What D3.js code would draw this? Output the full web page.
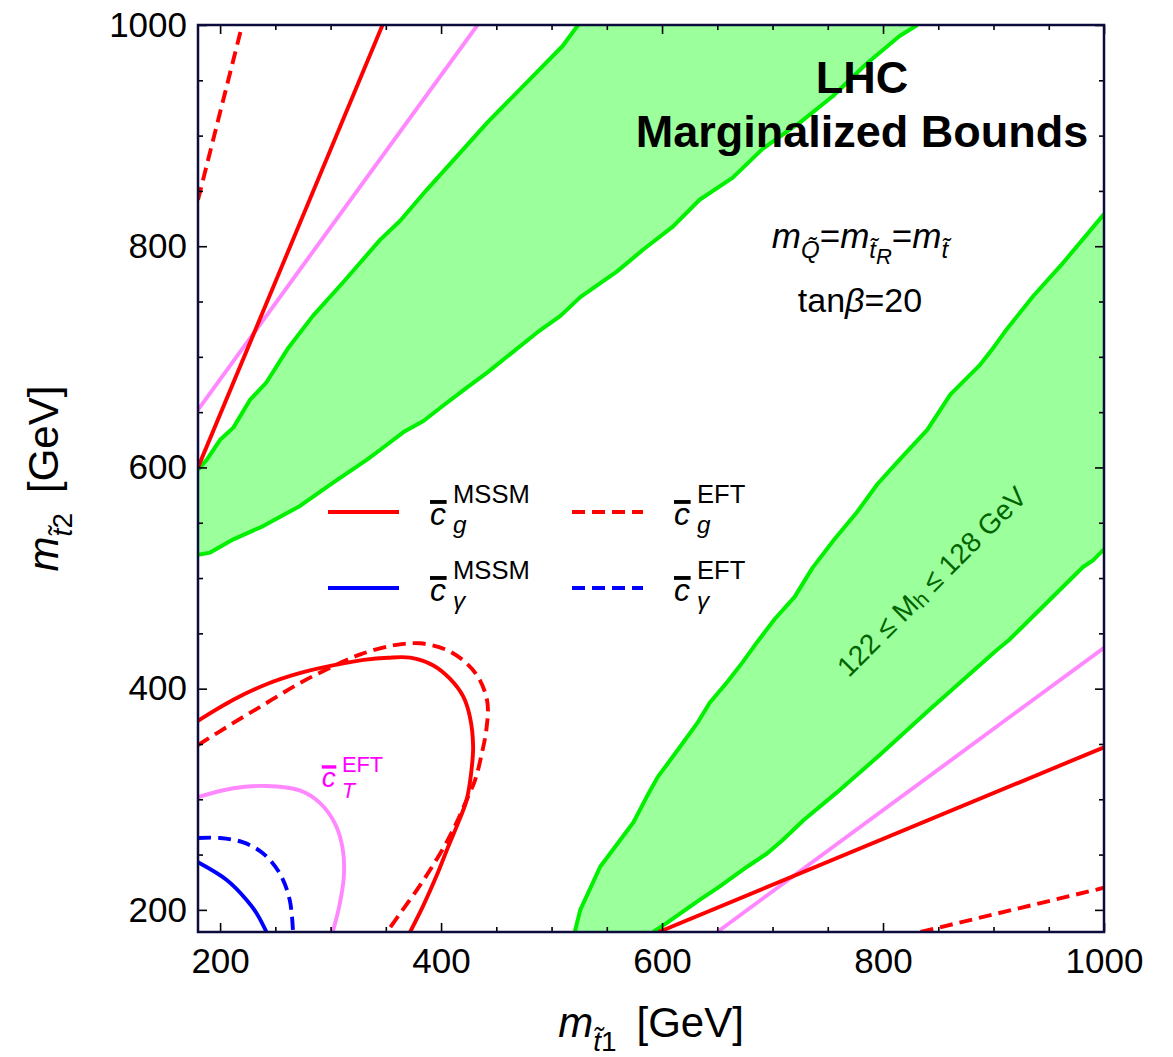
<!DOCTYPE html>
<html>
<head>
<meta charset="utf-8">
<script src="https://cdn.jsdelivr.net/npm/d3@7"></script>
<style>
body { margin: 0; background: #fff; }
text { font-family: "Liberation Sans", Arial, Helvetica, sans-serif; }
</style>
</head>
<body>
<div class="stop-plot"></div>
<script>
// tick values (GeV)
const xTicks = [200, 400, 600, 800, 1000];
const yTicks = [200, 400, 600, 800, 1000];
const minorTicks = [250, 300, 350, 450, 500, 550, 650, 700, 750, 850, 900, 950];

// 122 <= Mh <= 128 GeV bands, boundaries as [m_t1, m_t2]
const bandUpperTop = [[180,598],[188,607],[200,625],[212,636],[227,661],[242,677],[261,707],[284,737],[311,767],[345,806],[363,823],[387,851],[442,912],[510,981],[524,1000]];
const bandUpperBottom = [[180,521],[191,523],[212,535],[239,547],[272,565],[302,586],[333,607],[345,616],[366,632],[384,642],[402,656],[423,672],[442,686],[462,702],[487,722],[508,737],[526,754],[559,777],[583,797],[610,818],[634,842],[664,862],[691,888],[725,912],[755,936],[785,965],[815,990],[831,1000]];
const bandLowerLeft = [[521,180],[526,200],[544,239],[553,251],[574,279],[586,302],[596,320],[616,347],[632,369],[643,387],[659,406],[673,424],[686,442],[702,463],[720,483],[736,509],[756,535],[776,559],[795,585],[815,607],[840,634],[861,666],[888,693],[899,707],[912,725],[936,755],[963,785],[1000,829]];
const bandLowerRight = [[592,180],[604,188],[634,209],[652,221],[677,239],[695,251],[709,263],[728,281],[758,306],[797,340],[842,381],[903,435],[914,444],[981,510],[990,516],[1000,526]];

// c_g MSSM (solid red)
const cgMssmUL = [[180,600],[347,1000]];
const cgMssmLR = [[597,180],[1000,347]];
const cgMssmLoop = [[180,371],[212,390],[242,404],[272,414],[302,421],[330,426],[352,428],[372,428],[393,421],[408,409],[420,393],[426,375],[429,348],[427,322],[423,299],[416,280],[406,256],[396,231],[384,204],[372,180]];
// c_g EFT (dashed red)
const cgEftUL = [[180,842],[220,1000]];
const cgEftLR = [[834,180],[1000,220]];
const cgEftLoop = [[180,349],[212,369],[242,387],[272,405],[302,420],[327,431],[356,439],[381,441],[405,435],[423,423],[435,408],[442,387],[441,363],[437,342],[431,318],[423,299],[415,281],[406,263],[390,236],[376,215],[363,197],[351,180]];
// c_T EFT (pink)
const ctEftUL = [[180,652],[433,1000]];
const ctEftLR = [[650,180],[1000,437]];
const ctEftLoop = [[180,302],[212,310],[242,312],[272,308],[290,297],[304,278],[311,255],[312,230],[308,204],[302,180]];
// c_gamma (blue)
const cgamMssm = [[180,243],[206,227],[224,209],[233,197],[242,180]];
const cgamEft = [[180,265],[200,265],[221,261],[239,251],[254,233],[263,209],[266,180]];

const legendEntries = [
    {sub: 'g', sup: 'MSSM', color: '#ff0000', dashed: false},
    {sub: 'g', sup: 'EFT', color: '#ff0000', dashed: true},
    {sub: 'γ', sup: 'MSSM', color: '#0000ff', dashed: false},
    {sub: 'γ', sup: 'EFT', color: '#0000ff', dashed: true}
];

makePlot();

function makePlot() {
    const outerWidth = 1173;
    const outerHeight = 1057;
    const margin = {top: 25, left: 198, bottom: 125, right: 69};
    const width = outerWidth - margin.left - margin.right;
    const height = outerHeight - margin.top - margin.bottom;

    const svg = d3.select('.stop-plot')
        .append('svg')
        .attr('width', outerWidth)
        .attr('height', outerHeight)
        .append('g')
        .attr('transform', `translate(${margin.left}, ${margin.top})`);

    const xScale = d3.scaleLinear().domain([180, 1000]).range([0, width]);
    const yScale = d3.scaleLinear().domain([180, 1000]).range([height, 0]);

    svg.append('clipPath').attr('id', 'clip')
        .append('rect').attr('width', width).attr('height', height);

    const plot = svg.append('g').attr('clip-path', 'url(#clip)');

    const line = d3.line()
        .x(d => xScale(d[0]))
        .y(d => yScale(d[1]));
    const smooth = d3.line()
        .x(d => xScale(d[0]))
        .y(d => yScale(d[1]))
        .curve(d3.curveCatmullRom);

    // green bands
    const bands = [
        bandUpperTop.concat(bandUpperBottom.slice().reverse()),
        bandLowerLeft.concat(bandLowerRight.slice().reverse())
    ];
    plot.selectAll('.band')
        .data(bands)
        .enter()
        .append('path')
        .attr('class', 'band')
        .attr('d', d => line(d) + 'Z')
        .attr('fill', '#9bff9b')
        .attr('stroke', 'none');

    plot.selectAll('.band-edge')
        .data([bandUpperTop, bandUpperBottom, bandLowerLeft, bandLowerRight])
        .enter()
        .append('path')
        .attr('class', 'band-edge')
        .attr('d', line)
        .attr('fill', 'none')
        .attr('stroke', '#00f000')
        .attr('stroke-width', 4)
        .attr('stroke-linejoin', 'round');

    const curves = [
        {d: ctEftUL, color: '#ff88ff', dash: null, gen: line},
        {d: ctEftLR, color: '#ff88ff', dash: null, gen: line},
        {d: ctEftLoop, color: '#ff88ff', dash: null, gen: smooth},
        {d: cgMssmUL, color: '#ff0000', dash: null, gen: line},
        {d: cgMssmLR, color: '#ff0000', dash: null, gen: line},
        {d: cgMssmLoop, color: '#ff0000', dash: null, gen: smooth},
        {d: cgEftUL, color: '#ff0000', dash: '13,7', gen: line},
        {d: cgEftLR, color: '#ff0000', dash: '13,7', gen: line},
        {d: cgEftLoop, color: '#ff0000', dash: '13,7', gen: smooth},
        {d: cgamMssm, color: '#0000ff', dash: null, gen: smooth},
        {d: cgamEft, color: '#0000ff', dash: '13,7', gen: smooth}
    ];
    plot.selectAll('.curve')
        .data(curves)
        .enter()
        .append('path')
        .attr('class', 'curve')
        .attr('d', c => c.gen(c.d))
        .attr('fill', 'none')
        .attr('stroke', c => c.color)
        .attr('stroke-width', 3.9)
        .attr('stroke-dasharray', c => c.dash);

    // axes, ticks inward on all four sides
    const styleAxis = g => {
        g.select('.domain').remove();
        g.selectAll('.tick line').attr('stroke', '#000').attr('stroke-width', 1.6);
        g.selectAll('.tick text').attr('font-size', 35).attr('fill', '#000')
            .attr('font-family', '"Liberation Sans", Arial, sans-serif');
    };

    svg.append('g').attr('transform', `translate(0, ${height})`)
        .call(d3.axisBottom(xScale).tickValues(xTicks).tickSize(-9).tickPadding(16).tickFormat(d3.format('d')))
        .call(styleAxis);
    svg.append('g').attr('transform', `translate(0, ${height})`)
        .call(d3.axisBottom(xScale).tickValues(minorTicks).tickSize(-5).tickFormat(''))
        .call(styleAxis);
    svg.append('g')
        .call(d3.axisTop(xScale).tickValues(xTicks).tickSize(-9).tickFormat(''))
        .call(styleAxis);
    svg.append('g')
        .call(d3.axisTop(xScale).tickValues(minorTicks).tickSize(-5).tickFormat(''))
        .call(styleAxis);
    svg.append('g')
        .call(d3.axisLeft(yScale).tickValues(yTicks).tickSize(-9).tickPadding(11).tickFormat(d3.format('d')))
        .call(styleAxis);
    svg.append('g')
        .call(d3.axisLeft(yScale).tickValues(minorTicks).tickSize(-5).tickFormat(''))
        .call(styleAxis);
    svg.append('g').attr('transform', `translate(${width}, 0)`)
        .call(d3.axisRight(yScale).tickValues(yTicks).tickSize(-9).tickFormat(''))
        .call(styleAxis);
    svg.append('g').attr('transform', `translate(${width}, 0)`)
        .call(d3.axisRight(yScale).tickValues(minorTicks).tickSize(-5).tickFormat(''))
        .call(styleAxis);

    svg.append('rect')
        .attr('width', width)
        .attr('height', height)
        .attr('fill', 'none')
        .attr('stroke', '#0c0c3c')
        .attr('stroke-width', 2.5);

    // axis titles
    const xLab = svg.append('text')
        .attr('x', width / 2)
        .attr('y', height + 105)
        .attr('text-anchor', 'middle')
        .attr('font-size', 42);
    rich(xLab, [
        {t: 'm', i: 1},
        {t: 't\u0303', i: 1, s: 28, dy: 14},
        {t: '1', s: 28},
        {t: '[GeV]', dx: 20, dy: -14}
    ]);

    const yLab = svg.append('text')
        .attr('transform', `translate(-140, ${height / 2})rotate(-90)`)
        .attr('text-anchor', 'middle')
        .attr('font-size', 42);
    rich(yLab, [
        {t: 'm', i: 1},
        {t: 't\u0303', i: 1, s: 28, dy: 14},
        {t: '2', s: 28},
        {t: '[GeV]', dx: 20, dy: -14}
    ]);

    // title
    svg.append('text')
        .attr('x', 664).attr('y', 68)
        .attr('text-anchor', 'middle')
        .attr('font-size', 45).attr('font-weight', 'bold')
        .text('LHC');
    svg.append('text')
        .attr('x', 664).attr('y', 122)
        .attr('text-anchor', 'middle')
        .attr('font-size', 45).attr('font-weight', 'bold')
        .text('Marginalized Bounds');

    const cond = svg.append('text')
        .attr('x', 662).attr('y', 223)
        .attr('text-anchor', 'middle')
        .attr('font-size', 35);
    rich(cond, [
        {t: 'm', i: 1},
        {t: 'Q\u0303', i: 1, s: 24, dy: 10},
        {t: '=', dy: -10},
        {t: 'm', i: 1},
        {t: 't\u0303', i: 1, s: 24, dy: 10},
        {t: 'R', i: 1, s: 22, dy: 6},
        {t: '=', dy: -16},
        {t: 'm', i: 1},
        {t: 't\u0303', i: 1, s: 24, dy: 10}
    ]);
    const tanb = svg.append('text')
        .attr('x', 662).attr('y', 287)
        .attr('text-anchor', 'middle')
        .attr('font-size', 34);
    rich(tanb, [{t: 'tan'}, {t: 'β', i: 1}, {t: '=20'}]);

    // legend
    const legend = svg.selectAll('.legend')
        .data(legendEntries)
        .enter()
        .append('g')
        .attr('class', 'legend')
        .attr('transform', (d, i) => `translate(${130 + (i % 2) * 244}, ${487 + Math.floor(i / 2) * 76})`);
    legend.append('line')
        .attr('x1', 0).attr('x2', 71)
        .attr('stroke', d => d.color)
        .attr('stroke-width', 3.9)
        .attr('stroke-dasharray', d => d.dashed ? '13,7' : null);
    legend.each(function(d) {
        cbar(d3.select(this), 102, 13, 32, d.sub, d.sup, '#000', 0.25, -0.69, 0.8);
    });

    // c_T EFT label
    cbar(svg, xScale(292), yScale(311), 28, 'T', 'EFT', '#ff00ff', 0.38, -0.55, 0.78);

    // band label
    const bx = xScale(844), by = yScale(497);
    const bandLab = svg.append('text')
        .attr('transform', `translate(${bx}, ${by})rotate(-45)`)
        .attr('text-anchor', 'middle')
        .attr('dy', '0.35em')
        .attr('font-size', 28)
        .attr('fill', '#006400');
    rich(bandLab, [
        {t: '122 \u2264 M'},
        {t: 'h', s: 21, dy: 3},
        {t: ' \u2264 128 GeV', dy: -3}
    ]);
}

// c with an overbar, subscript and superscript
function cbar(sel, x, y, size, sub, sup, color, subY, supY, supSize) {
    const g = sel.append('g').attr('transform', `translate(${x}, ${y})`).attr('fill', color);
    g.append('text')
        .attr('font-size', size)
        .attr('font-style', 'italic')
        .text('c');
    g.append('line')
        .attr('x1', 0).attr('x2', size * 0.52)
        .attr('y1', -size * 0.72).attr('y2', -size * 0.72)
        .attr('stroke', color)
        .attr('stroke-width', size * 0.12);
    g.append('text')
        .attr('x', size * 0.72).attr('y', size * subY)
        .attr('font-size', size * 0.76)
        .attr('font-style', 'italic')
        .text(sub);
    g.append('text')
        .attr('x', size * 0.72).attr('y', size * supY)
        .attr('font-size', size * supSize)
        .text(sup);
}

function rich(text, parts) {
    parts.forEach(p => {
        const t = text.append('tspan').text(p.t);
        if (p.i) t.attr('font-style', 'italic');
        if (p.s) t.attr('font-size', p.s);
        if (p.dx) t.attr('dx', p.dx);
        if (p.dy) t.attr('dy', p.dy);
    });
}
</script>
</body>
</html>
